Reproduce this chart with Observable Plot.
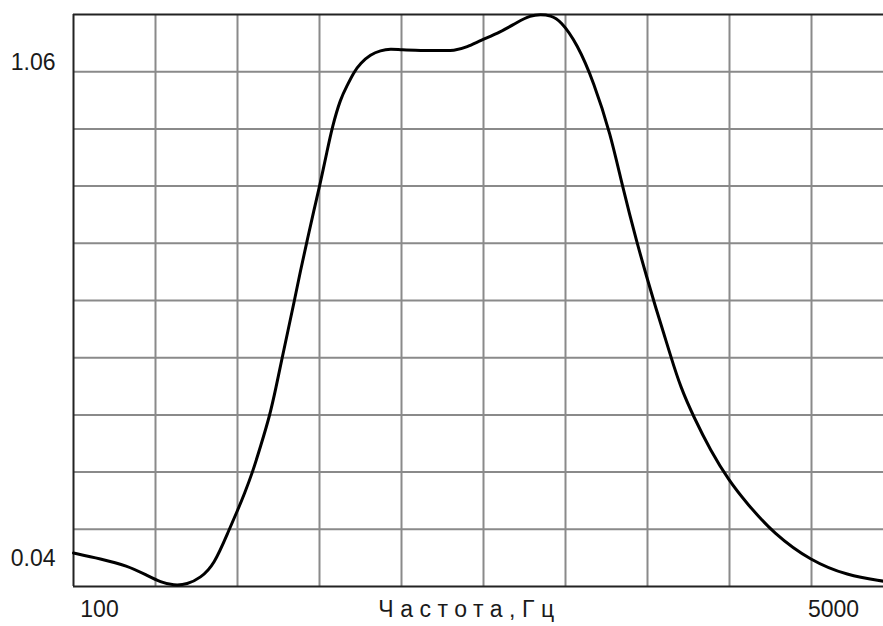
<!DOCTYPE html>
<html>
<head>
<meta charset="utf-8">
<script src="https://cdn.jsdelivr.net/npm/d3@7"></script>
<script src="https://cdn.jsdelivr.net/npm/@observablehq/plot@0.6"></script>
<style>
  html, body { margin: 0; padding: 0; background: #fff; overflow: hidden; }
  .xlabel text { letter-spacing: 6.5px; }
</style>
</head>
<body>
<div id="chart"></div>
<script>
// Frequency (Hz) and response values
const freq = [87.06, 100.5, 115.9, 129, 138.4, 148.6, 159.6, 171.3, 183.9, 199.2,
  208.7, 216.6, 225.7, 235.9, 247.9, 256.2, 264.8, 273.1, 281.7, 291.9,
  302.5, 313.4, 323.5, 336.6, 345.6, 361.3, 374.4, 387.8, 401.9, 423.9,
  447.1, 471.6, 499.3, 553.4, 615.6, 660.8, 709.8, 761.9, 847.6, 926.5,
  994.6, 1049, 1106.5, 1167, 1275.6, 1393.7, 1523.4, 1621.5, 1756.4, 1852.5,
  1936.5, 2024, 2097.5, 2212.4, 2374.9, 2596, 2861.8, 3156.9, 3637.8, 4440.4,
  5380, 6527];
const gain = [0.0523, 0.0404, 0.0266, 0.0061, -0.0077, -0.0144, -0.0124, 0.0014, 0.0266, 0.0986,
  0.1396, 0.1746, 0.2163, 0.2711, 0.3348, 0.3923, 0.4540, 0.5094, 0.5649, 0.6327,
  0.6943, 0.7560, 0.8073, 0.8792, 0.9271, 0.9860, 1.0128, 1.0401, 1.0586, 1.0764,
  1.0847, 1.0882, 1.0857, 1.0847, 1.0847, 1.0837, 1.0915, 1.1052, 1.1222, 1.1428,
  1.1566, 1.1586, 1.1566, 1.1463, 1.0984, 1.0195, 0.9135, 0.8073, 0.6875, 0.6162,
  0.5573, 0.5033, 0.4581, 0.3930, 0.3313, 0.2629, 0.2013, 0.1534, 0.0918, 0.0355,
  0.0061, -0.0056];

const xTicks = [100, 5000];
const yTicks = [0.04, 1.06];
const xTitle = "Частота,Гц";
const xDomain = [87.06, 6527];
const yDomain = [-0.0165, 1.1586];

const data = freq.map((f, i) => ({f, g: gain[i]}));

// grid: 10 equal divisions of the plot (columns ~82px wide in a 810px area)
const gridX = d3.range(1, 10).map(k => xDomain[0] * Math.pow(xDomain[1] / xDomain[0], k * 82 / 810));
const gridY = d3.range(1, 10).map(k => yDomain[0] + k * (yDomain[1] - yDomain[0]) / 10);

const font = "'Liberation Sans', Arial, sans-serif";

const chart = Plot.plot({
  width: 883,
  height: 626,
  marginTop: 14,
  marginBottom: 40,
  marginLeft: 73,
  marginRight: 0,
  style: {fontFamily: font, fontSize: "23px", color: "#1a1a1a", background: "#fff"},
  x: {type: "log", domain: xDomain},
  y: {type: "linear", domain: yDomain},
  marks: [
    Plot.ruleX(gridX, {stroke: "#8a8a8a", strokeWidth: 2}),
    Plot.ruleY(gridY, {stroke: "#8a8a8a", strokeWidth: 2}),
    Plot.ruleY(yDomain, {stroke: "#222", strokeWidth: 2}),
    Plot.ruleX([xDomain[0]], {stroke: "#222", strokeWidth: 2}),
    Plot.axisX({ticks: xTicks, tickSize: 0, tickPadding: 14, tickFormat: d => String(d), label: null, fontSize: 23}),
    Plot.axisY({ticks: yTicks, tickSize: 0, tickPadding: 18, tickFormat: d => d.toFixed(2), label: null, fontSize: 23}),
    Plot.text([xTitle], {frameAnchor: "bottom", lineAnchor: "top", dy: 14, dx: -9, fontSize: 23, fill: "#1a1a1a", className: "xlabel"}),
    Plot.line(data, {x: "f", y: "g", stroke: "#000", strokeWidth: 3, curve: "basis"})
  ]
});
document.getElementById("chart").appendChild(chart);
</script>
</body>
</html>
